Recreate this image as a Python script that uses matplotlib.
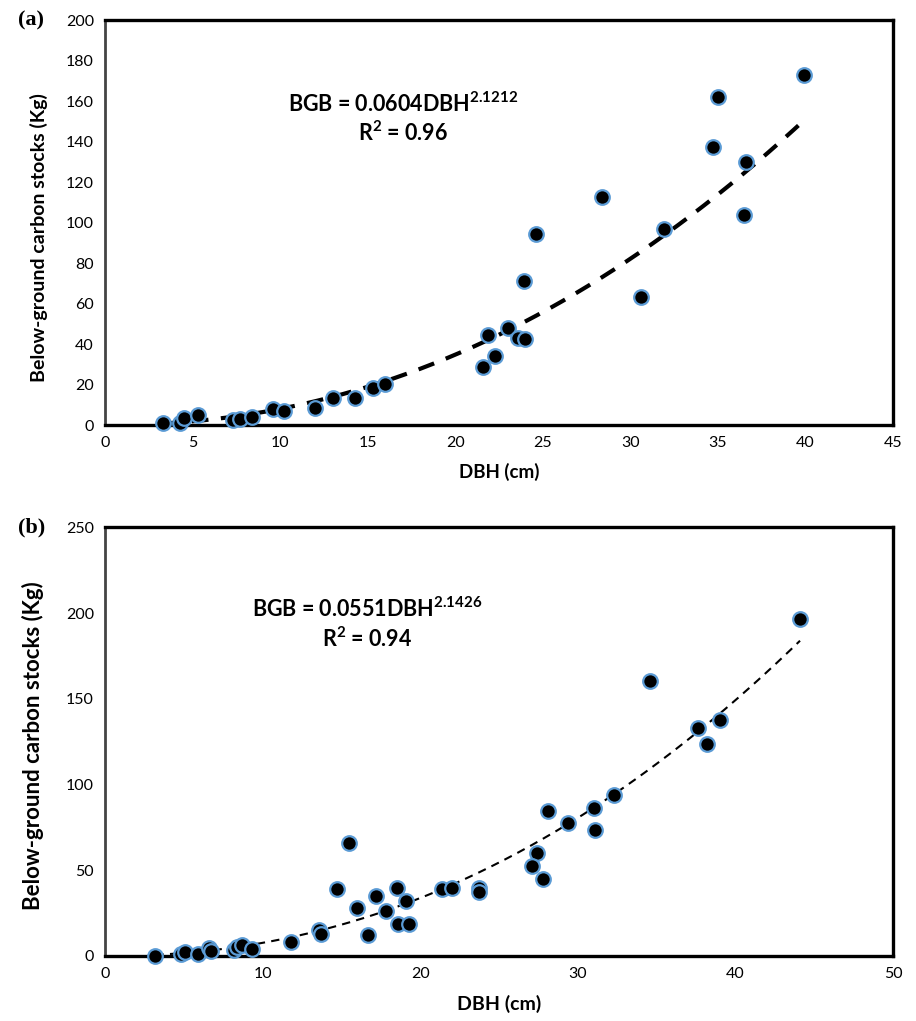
import matplotlib.pyplot as plt
import numpy as np

plt.rcParams["font.family"] = ["Lato", "DejaVu Sans"]
plt.rcParams["mathtext.fontset"] = "custom"
plt.rcParams["mathtext.bf"] = "Lato:bold"
plt.rcParams["mathtext.rm"] = "Lato"

# %%
# Data
# (a) DBH (cm) vs below-ground carbon stocks (Kg)
dbh_a = [3.3, 4.3, 4.5, 5.3, 7.3, 7.7, 8.4, 9.6, 10.2, 12.0, 13.0, 14.3, 15.3, 16.0,
         21.6, 21.9, 22.3, 23.0, 23.6, 24.0, 23.9, 24.6, 28.4, 30.6, 31.9, 34.7,
         35.0, 36.6, 36.5, 39.9]
bgb_a = [0.8, 1.1, 3.3, 4.9, 2.5, 3.0, 4.1, 7.7, 6.9, 8.2, 13.2, 13.2, 18.1, 20.1,
         28.8, 44.4, 34.1, 48.1, 43.1, 42.3, 71.3, 94.2, 112.4, 63.4, 96.6, 137.4,
         161.8, 130.0, 103.7, 172.8]
coef_a, exp_a, r2_a = 0.0604, 2.1212, 0.96

# (b)
dbh_b = [3.2, 4.8, 5.1, 5.9, 6.6, 6.7, 8.2, 8.4, 8.7, 9.3, 11.8, 13.6, 13.7, 14.7,
         15.5, 16.0, 16.7, 17.2, 17.8, 18.5, 18.6, 19.1, 19.3, 21.4, 22.0, 23.7,
         23.7, 27.4, 27.1, 27.8, 28.1, 29.4, 31.0, 31.1, 32.3, 34.6, 37.6, 38.2,
         39.0, 44.1]
bgb_b = [0.0, 1.2, 2.1, 1.2, 4.9, 2.9, 3.5, 5.4, 6.4, 4.1, 8.0, 15.2, 12.8, 38.9,
         65.7, 28.2, 12.4, 35.2, 26.1, 39.9, 18.5, 32.3, 18.7, 38.9, 39.9, 39.9,
         37.1, 60.3, 52.7, 44.9, 84.5, 77.4, 86.3, 73.7, 94.1, 160.1, 132.9, 123.7,
         137.8, 196.5]
coef_b, exp_b, r2_b = 0.0551, 2.1426, 0.94

x_ticks_a = np.arange(0, 46, 5)
y_ticks_a = np.arange(0, 201, 20)
x_ticks_b = np.arange(0, 51, 10)
y_ticks_b = np.arange(0, 251, 50)

# %%
# Build figure
fig = plt.figure(figsize=(9.16, 10.21), dpi=100)
ax_a = fig.add_axes([0.1146, 0.5837, 0.8603, 0.3967])
ax_b = fig.add_axes([0.1146, 0.0637, 0.8603, 0.4198])


def draw_panel(ax, dbh, bgb, coef, expo, r2, xt, yt, lw, dashes, text_xy,
               letter, ylab_size, ylab_xy, xlab_size, xlab_pad):
    xs = np.linspace(min(dbh), max(dbh), 200)
    ax.plot(xs, coef * xs ** expo, color="black", lw=lw, dashes=dashes, zorder=2)
    ax.plot(dbh, bgb, "o", ms=10.5, mfc="black", mec="#5B9BD5", mew=1.6,
            clip_on=False, zorder=3)
    ax.set_xlim(xt[0], xt[-1])
    ax.set_ylim(yt[0], yt[-1])
    ax.set_xticks(xt)
    ax.set_yticks(yt)
    ax.tick_params(length=0, labelsize=11.5, pad=8)
    for side in ["top", "right", "bottom"]:
        ax.spines[side].set_linewidth(2.4)
        ax.spines[side].set_color("black")
    ax.spines["left"].set_linewidth(2.0)
    ax.spines["left"].set_color("#444444")
    ax.set_xlabel("DBH (cm)", fontsize=xlab_size, fontweight="bold",
                  labelpad=xlab_pad)
    ax.set_ylabel("Below-ground carbon stocks (Kg)", fontsize=ylab_size,
                  fontweight="bold")
    ax.yaxis.set_label_coords(*ylab_xy)
    ax.text(text_xy[0], text_xy[1],
            "BGB = %.4fDBH$^{\\mathbf{%s}}$" % (coef, expo) + "\n" +
            "R$^{\\mathbf{2}}$ = %.2f" % r2,
            transform=ax.transAxes, ha="center", va="center", fontsize=15.5,
            fontweight="bold", linespacing=1.25)
    ax.text(-0.11, 1.0, letter, transform=ax.transAxes, ha="left", va="center",
            fontsize=16, fontweight="bold", family="Liberation Serif")


draw_panel(ax_a, dbh_a, bgb_a, coef_a, exp_a, r2_a, x_ticks_a, y_ticks_a,
           3.0, (4, 3), (0.378, 0.757), "(a)", 14, (-0.072, 0.464), 13.5, 9)
draw_panel(ax_b, dbh_b, bgb_b, coef_b, exp_b, r2_b, x_ticks_b, y_ticks_b,
           1.5, (4, 3), (0.333, 0.775), "(b)", 16, (-0.077, 0.49), 14, 10)

fig.savefig("out.png", dpi=100)
